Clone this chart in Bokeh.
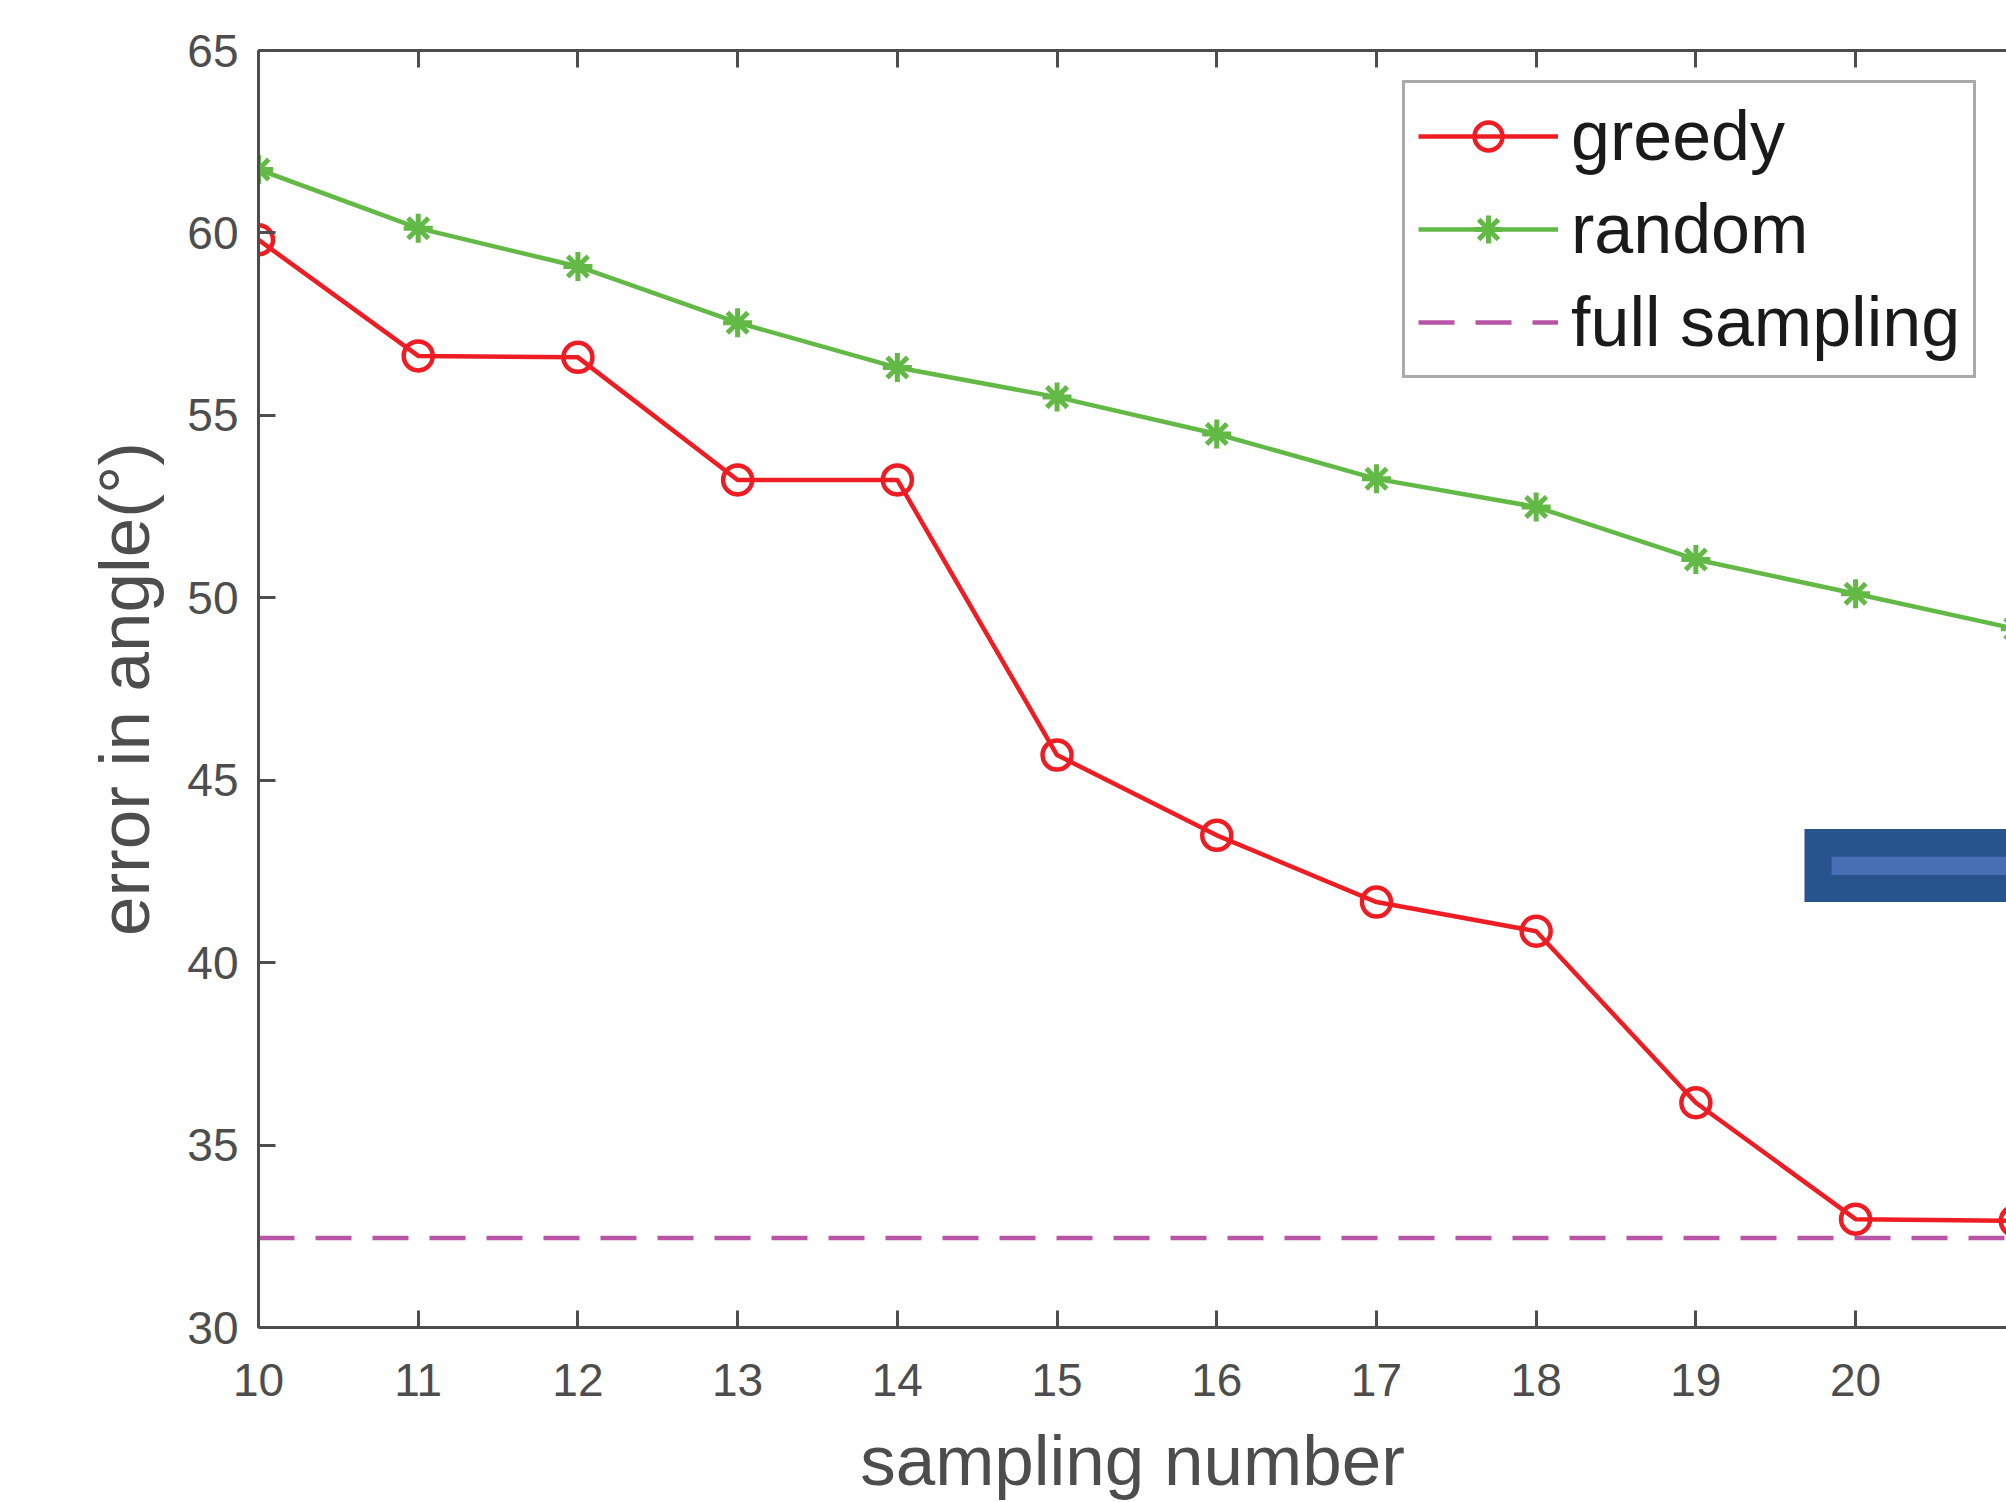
from bokeh.plotting import figure
from bokeh.models import LinearAxis, FixedTicker, Range1d, BoxAnnotation, Legend
from bokeh.embed import file_html
from bokeh.resources import INLINE

# ---- data ----
sampling_number = [10, 11, 12, 13, 14, 15, 16, 17, 18, 19, 20, 21]
greedy = [59.81, 56.63, 56.59, 53.23, 53.23, 45.69, 43.49, 41.66, 40.86, 36.16, 32.97, 32.92]
random_ = [61.74, 60.13, 59.08, 57.54, 56.31, 55.50, 54.49, 53.26, 52.49, 51.05, 50.11, 49.15]
full_sampling_x = [10, 21]
full_sampling_y = [32.45, 32.45]
x_ticks = [10, 11, 12, 13, 14, 15, 16, 17, 18, 19, 20, 21]
y_ticks = [30, 35, 40, 45, 50, 55, 60, 65]
# blue overlay rectangle (partly outside the crop)
blue_outer = dict(left=19.68, right=21.5, top=43.66, bottom=41.66)
blue_inner = dict(left=19.85, right=21.5, top=42.90, bottom=42.40)

FONT = "Liberation Sans"
AX = "#4d4d4d"
RED = "#ee1d23"
GREEN = "#63b946"
MAG = "#b955a7"

p = figure(width=2006, height=1502, output_backend="svg", toolbar_location=None,
           x_range=Range1d(10, 20.945), y_range=Range1d(30, 65),
           min_border_left=258, min_border_right=0, min_border_top=50, min_border_bottom=174,
           x_axis_label="sampling number", y_axis_label="error in angle(°)")
p.outline_line_color = None
p.xgrid.visible = False
p.ygrid.visible = False
p.background_fill_color = "white"
p.border_fill_color = "white"

def style_axis(ax):
    ax.axis_line_color = AX
    ax.axis_line_width = 3
    ax.major_tick_line_color = AX
    ax.major_tick_line_width = 3
    ax.major_tick_in = 17
    ax.major_tick_out = 0
    ax.minor_tick_line_color = None
    ax.major_label_text_font = FONT
    ax.major_label_text_font_size = "46px"
    ax.major_label_text_color = AX
    ax.axis_label_text_font = FONT
    ax.axis_label_text_font_size = "71px"
    ax.axis_label_text_font_style = "normal"
    ax.axis_label_text_color = AX

p.xaxis.ticker = FixedTicker(ticks=x_ticks)
p.yaxis.ticker = FixedTicker(ticks=y_ticks)
for ax in p.xaxis + p.yaxis:
    style_axis(ax)
p.xaxis.major_label_standoff = 36
p.xaxis.axis_label_standoff = 22
p.yaxis.major_label_standoff = 20
p.yaxis.axis_label_standoff = 20

top_axis = LinearAxis(ticker=FixedTicker(ticks=x_ticks))
style_axis(top_axis)
top_axis.major_label_overrides = {t: "" for t in x_ticks}
p.add_layout(top_axis, "above")

# full sampling dashed line
r_full = p.line(full_sampling_x, full_sampling_y, line_color=MAG, line_width=4.5, line_dash="36 21")

# random
r_rand_l = p.line(sampling_number, random_, line_color=GREEN, line_width=4.5)
r_rand_m = p.scatter(sampling_number, random_, marker="asterisk", size=29, line_color=GREEN, line_width=5)

# greedy
r_greedy_l = p.line(sampling_number, greedy, line_color=RED, line_width=4.5)
r_greedy_m = p.scatter(sampling_number, greedy, marker="circle", size=29, line_color=RED,
                       line_width=4.5, fill_color=None)

p.add_layout(BoxAnnotation(fill_color="#28548e", fill_alpha=1, line_color=None, **blue_outer))
p.add_layout(BoxAnnotation(fill_color="#4870b4", fill_alpha=1, line_color=None, **blue_inner))

legend = Legend(items=[("greedy", [r_greedy_l, r_greedy_m]),
                       ("random", [r_rand_l, r_rand_m]),
                       ("full sampling", [r_full])],
                location=(1144, 949))
legend.label_text_font = FONT
legend.label_text_font_size = "70px"
legend.label_text_color = "#1a1a1a"
legend.glyph_width = 140
legend.glyph_height = 70
legend.label_height = 70
legend.label_standoff = 13
legend.spacing = 13
legend.padding = 13
legend.margin = 0
legend.border_line_color = "#555555"
legend.border_line_width = 3
legend.background_fill_color = "white"
legend.background_fill_alpha = 1
p.add_layout(legend, "center")

open("out.html", "w").write(file_html(p, INLINE))
